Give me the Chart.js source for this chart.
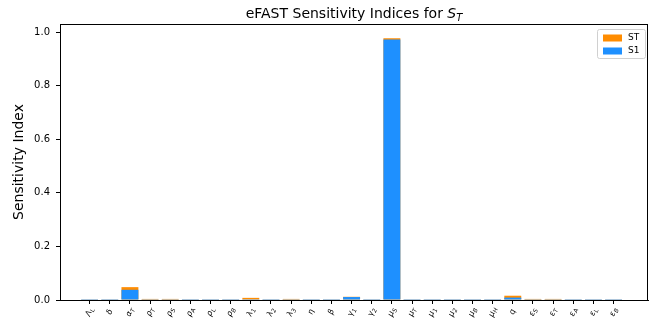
<!DOCTYPE html>
<html><head><meta charset="utf-8">
<script src="https://cdn.jsdelivr.net/npm/chart.js@4"></script>
<style>html,body{margin:0;padding:0;background:#fff}</style>
</head><body>
<canvas id="c" width="660" height="326"></canvas>
<script>
// Parameter names (base symbol + subscript)
const paramBase = ['Λ','δ','α','ρ','ρ','ρ','ρ','ρ','λ','λ','λ','η','β','γ','γ','μ','μ','μ','μ','μ','μ','q','ε','ε','ε','ε','ε'];
const paramSub  = ['L','','T','T','S','A','L','B','1','2','3','','','1','2','S','T','1','2','B','H','','S','T','A','L','B'];
// Total-order indices (ST) and first-order indices (S1)
const stValues = [0.001,0.001,0.048,0.004,0.004,0.001,0.001,0.001,0.008,0.001,0.004,0.001,0.001,0.012,0.001,0.977,0.001,0.001,0.001,0.001,0.001,0.016,0.004,0.004,0.001,0.001,0.001];
const s1Values = [0.0005,0.0005,0.038,0.001,0.001,0.0005,0.0005,0.0005,0.003,0.0005,0.001,0.0005,0.0005,0.011,0.0005,0.972,0.0005,0.0005,0.0005,0.0005,0.0005,0.009,0.001,0.001,0.0005,0.0005,0.0005];
const yTicks = [0, 0.2, 0.4, 0.6, 0.8, 1.0];
const seriesNames = ['ST', 'S1'];
const seriesColors = ['#FF8C00', '#1E90FF'];

const idx = paramBase.map((_, i) => i);

const framePlugin = {
  id: 'frame',
  afterDatasetsDraw(chart) {
    const {ctx, chartArea: a} = chart;
    ctx.save();
    ctx.strokeStyle = '#000';
    ctx.lineWidth = 1;
    ctx.strokeRect(Math.round(a.left) + 0.5, Math.round(a.top) + 0.5, Math.round(a.right - a.left) - 1, Math.round(a.bottom - a.top));
    ctx.restore();
  }
};

const xLabelPlugin = {
  id: 'xlabels',
  afterDraw(chart) {
    const {ctx} = chart;
    const xs = chart.scales.x;
    const bottom = chart.chartArea.bottom;
    ctx.save();
    ctx.fillStyle = '#000';
    idx.forEach(i => {
      const x = xs.getPixelForValue(i);
      const base = paramBase[i], sub = paramSub[i];
      ctx.font = 'italic 8px "DejaVu Sans"';
      const wb = ctx.measureText(base).width;
      ctx.font = 'italic 6px "DejaVu Sans"';
      const ws = sub ? ctx.measureText(sub).width : 0;
      const w = wb + ws;
      ctx.save();
      ctx.translate(x, bottom + 12);
      ctx.rotate(-70 * Math.PI / 180);
      ctx.textBaseline = 'middle';
      ctx.textAlign = 'left';
      ctx.font = 'italic 8px "DejaVu Sans"';
      ctx.fillText(base, -w / 2, 0);
      if (sub) {
        ctx.font = 'italic 6px "DejaVu Sans"';
        ctx.fillText(sub, -w / 2 + wb, 2.5);
      }
      ctx.restore();
    });
    ctx.restore();
  }
};

const titlePlugin = {
  id: 'mtitle',
  afterDraw(chart) {
    const {ctx, chartArea: a} = chart;
    ctx.save();
    ctx.fillStyle = '#000';
    ctx.textBaseline = 'alphabetic';
    const t1 = 'eFAST Sensitivity Indices for ';
    ctx.font = '14px "DejaVu Sans"';
    const w1 = ctx.measureText(t1).width;
    ctx.font = 'italic 14px "DejaVu Sans"';
    const w2 = ctx.measureText('S').width;
    ctx.font = 'italic 10px "DejaVu Sans"';
    const w3 = ctx.measureText('T').width;
    const total = w1 + w2 + w3;
    const cx = (a.left + a.right) / 2;
    let x = cx - total / 2;
    const y = 18;
    ctx.textAlign = 'left';
    ctx.font = '14px "DejaVu Sans"';
    ctx.fillText(t1, x, y); x += w1;
    ctx.font = 'italic 14px "DejaVu Sans"';
    ctx.fillText('S', x, y); x += w2;
    ctx.font = 'italic 10px "DejaVu Sans"';
    ctx.fillText('T', x, y + 3);
    ctx.restore();
  }
};

const legendPlugin = {
  id: 'mlegend',
  afterDraw(chart) {
    const {ctx, chartArea: a} = chart;
    const bx = a.right - 51, by = a.top + 5, bw = 48, bh = 29;
    ctx.save();
    ctx.fillStyle = 'rgba(255,255,255,0.8)';
    ctx.strokeStyle = '#d0d0d0';
    ctx.lineWidth = 1;
    ctx.beginPath();
    ctx.roundRect(bx + 0.5, by + 0.5, bw, bh, 2);
    ctx.fill(); ctx.stroke();
    ctx.font = '9px "DejaVu Sans"';
    ctx.textBaseline = 'middle';
    ctx.textAlign = 'left';
    seriesNames.forEach((n, k) => {
      const ry = by + 9 + k * 13;
      ctx.fillStyle = seriesColors[k];
      ctx.fillRect(bx + 6, ry - 3.5, 19, 7);
      ctx.fillStyle = '#000';
      ctx.fillText(n, bx + 31, ry);
    });
    ctx.restore();
  }
};

new Chart(document.getElementById('c'), {
  type: 'bar',
  data: {
    datasets: [
      { label: seriesNames[1], data: idx.map(i => ({x: i, y: s1Values[i]})), backgroundColor: seriesColors[1], borderWidth: 0, grouped: false, barPercentage: 0.84, categoryPercentage: 1 },
      { label: seriesNames[0], data: idx.map(i => ({x: i, y: stValues[i]})), backgroundColor: seriesColors[0], borderWidth: 0, grouped: false, barPercentage: 0.84, categoryPercentage: 1 }
    ]
  },
  options: {
    responsive: false,
    devicePixelRatio: 1,
    animation: false,
    layout: { padding: { top: 24, right: 12, left: 0, bottom: 0 } },
    plugins: { legend: { display: false }, title: { display: false }, tooltip: { enabled: false } },
    scales: {
      x: {
        type: 'linear',
        offset: false,
        min: -1.47, max: 27.71,
        grid: { display: true, offset: false, drawOnChartArea: false, drawTicks: true, tickLength: 4, color: '#000' },
        border: { display: true, color: '#000' },
        ticks: { stepSize: 1, autoSkip: false, maxRotation: 0, callback: () => '', font: { size: 1 } },
        afterBuildTicks(s) { s.ticks = idx.map(v => ({value: v})); },
        afterFit(s) { s.height = 26; }
      },
      y: {
        min: 0, max: 1.03,
        grid: { display: true, drawOnChartArea: false, drawTicks: true, tickLength: 4, color: '#000' },
        border: { display: true, color: '#000' },
        ticks: { color: '#000', font: { family: 'DejaVu Sans', size: 10 }, padding: 6, callback: v => Number(v).toFixed(1) },
        afterBuildTicks(s) { s.ticks = yTicks.map(v => ({value: v})); },
        title: { display: true, text: 'Sensitivity Index', color: '#000', font: { family: 'DejaVu Sans', size: 14 }, padding: { top: 11, bottom: 0 } },
        afterFit(s) { s.width = 60; }
      }
    }
  },
  plugins: [framePlugin, xLabelPlugin, titlePlugin, legendPlugin]
});
</script>
</body></html>
